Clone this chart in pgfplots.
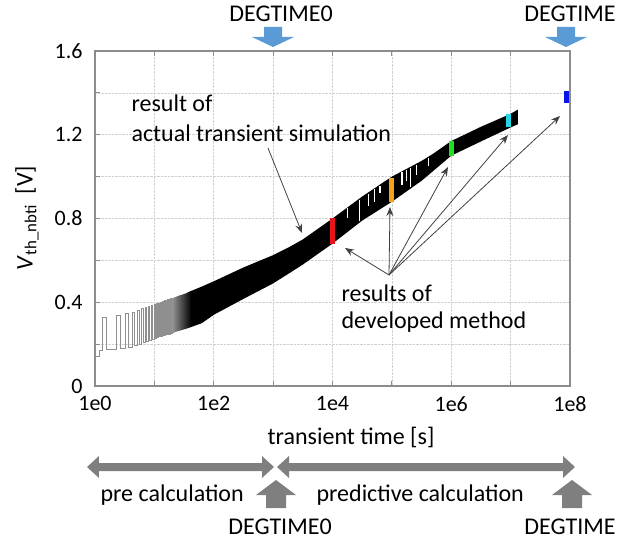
\documentclass[border=0pt]{standalone}
\usepackage{fontspec}
\setmainfont{Carlito}
\usepackage{pgfplots}
\pgfplotsset{compat=1.18}
\usetikzlibrary{arrows.meta}
\definecolor{axgray}{HTML}{8C8C8C}
\definecolor{tracegray}{HTML}{8F8F8F}
\definecolor{degblue}{HTML}{5B9BD5}
\definecolor{blockgray}{HTML}{7F7F7F}
\definecolor{mred}{HTML}{E8141B}
\definecolor{morange}{HTML}{F7A01C}
\definecolor{mgreen}{HTML}{1EE01E}
\definecolor{mcyan}{HTML}{1ED8E8}
\definecolor{mblue}{HTML}{0A14E6}
\newcommand\lf{\fontsize{24}{28}\selectfont}
\newcommand\tf{\fontsize{22}{26}\selectfont}

\begin{document}
\begin{tikzpicture}
\useasboundingbox (-95pt,-155pt) rectangle (534pt,386pt);
\begin{axis}[
  at={(0pt,0pt)}, anchor=south west,
  scale only axis, width=475pt, height=335pt,
  xmode=log, xmin=1, xmax=1e8, ymin=0, ymax=1.6,
  xtick={1,10,100,1000,10000,100000,1000000,10000000,100000000},
  xticklabels={1e0,,1e2,,1e4,,1e6,,1e8},
  xminorticks=false,
  ytick={0,0.2,0.4,0.6,0.8,1.0,1.2,1.4,1.6},
  yticklabels={0,,0.4,,0.8,,1.2,,1.6},
  xtick pos=both, ytick pos=left,
  tick align=inside, major tick length=5pt,
  grid=major, grid style={densely dotted, black!18, line width=0.6pt},
  axis line style={axgray, line width=1.4pt},
  tick style={axgray, line width=1pt},
  ticklabel style={font=\tf},
  yticklabel style={xshift=-9pt},
  xticklabel style={yshift=-7pt},
  unbounded coords=jump,
]
% pulse train of the transient simulation (early, sparse part)
\addplot[tracegray, line width=0.7pt] coordinates {
(1,0.14)(1.18,0.14)(1.18,0.168)
(1.35,0.168)(1.35,0.327)(1.55,0.327)(1.55,0.174)
(2.30,0.174)(2.30,0.338)(2.65,0.338)(2.65,0.178)
(3.25,0.178)(3.25,0.346)(3.60,0.346)(3.60,0.183)
(4.20,0.183)(4.20,0.352)(4.55,0.352)(4.55,0.193)
(5.15,0.193)(5.15,0.361)(5.50,0.361)(5.50,0.201)
(6.10,0.201)(6.10,0.369)(6.45,0.369)(6.45,0.208)
(7.05,0.208)(7.05,0.375)(7.40,0.375)(7.40,0.214)
(8.00,0.214)(8.00,0.380)(8.35,0.380)(8.35,0.220)
(8.95,0.220)(8.95,0.385)(9.30,0.385)(9.30,0.225)
(9.90,0.225)(9.90,0.390)(10.25,0.390)(10.25,0.228)
(10.85,0.228)(10.85,0.394)(11.20,0.394)(11.20,0.232)
(11.80,0.232)(11.80,0.397)(12.15,0.397)(12.15,0.235)
(12.75,0.235)(12.75,0.401)(13.10,0.401)(13.10,0.238)
(13.70,0.238)(13.70,0.404)(14.05,0.404)(14.05,0.240)
(14.65,0.240)(14.65,0.407)(15.00,0.407)(15.00,0.243)
(15.60,0.243)(15.60,0.409)(15.95,0.409)(15.95,0.245)
(16.55,0.245)(16.55,0.412)(16.90,0.412)(16.90,0.247)
(17.50,0.247)(17.50,0.414)(17.85,0.414)(17.85,0.249)
(18.45,0.249)(18.45,0.417)(18.80,0.417)(18.80,0.251)
(19.40,0.251)(19.40,0.419)(19.75,0.419)(19.75,0.253)
(20.35,0.253)(20.35,0.421)(20.70,0.421)(20.70,0.255)
};
% transition where the pulses merge (grey to black)
\addplot[draw=none, left color=black!42, right color=black] coordinates {
(20,0.419)(25,0.430)(33,0.441)(42,0.455)
(42,0.282)(33,0.272)(25,0.262)(20,0.253)
};
% dense part: envelope of the oscillation
\addplot[fill=black, draw=none] coordinates {
(41,0.453)(63,0.475)(100,0.50)(316,0.566)(1000,0.625)(1905,0.665)(3162,0.70)
(10000,0.80)(31623,0.905)(100000,1.00)(200000,1.045)(316228,1.075)(500000,1.11)
(1000000,1.17)(3162278,1.238)(10000000,1.30)(13200000,1.32)
(13200000,1.25)(10000000,1.235)(3162278,1.168)(1000000,1.10)(316228,0.98)(100000,0.88)
(31623,0.79)(10000,0.68)(3162,0.58)(1905,0.54)(1000,0.49)(316,0.416)(100,0.34)
(63,0.30)(41,0.281)
};
% sparse spots in the simulated band
\addplot[white, line width=1.1pt] coordinates {
(18197,0.85)(18197,0.80)(28840,nan)
(28840,0.89)(28840,0.79)(39811,nan)
(39811,0.918)(39811,0.86)(51286,nan)
(51286,0.94)(51286,0.88)(63096,nan)
(63096,0.955)(63096,0.92)(147911,nan)
(147911,1.02)(147911,0.96)(173780,nan)
(173780,1.03)(173780,0.98)(208930,nan)
(208930,1.04)(208930,0.95)(263027,nan)
(263027,1.055)(263027,1.01)(416869,nan)
(416869,1.09)(416869,1.05)
};
% results of developed method
\addplot[mred, line width=5pt] coordinates {(10000,0.68)(10000,0.80)};
\addplot[morange, line width=5pt] coordinates {(100000,0.88)(100000,0.995)};
\addplot[mgreen, line width=5pt] coordinates {(1000000,1.10)(1000000,1.17)};
\addplot[mcyan, line width=5pt] coordinates {(9300000,1.235)(9300000,1.30)};
\addplot[mblue, line width=5pt] coordinates {(89000000,1.35)(89000000,1.41)};
\end{axis}

\begin{scope}[x=1pt, y=-1pt, shift={(-95pt,386pt)}]
% top markers
\node at (281,14) {\lf DEGTIME0};
\node at (570,14) {\lf DEGTIME};
\fill[degblue] (264,27) -- (282,27) -- (282,37) -- (294,37) -- (273,47) -- (252,37) -- (264,37) -- cycle;
\fill[degblue] (557,27) -- (575,27) -- (575,37) -- (587,37) -- (566,47) -- (545,37) -- (557,37) -- cycle;
% y label
\node[rotate=90] at (27,218) {\lf\textit{V}\textsubscript{th\_nbti}\ \ [V]};
% x label
\node at (351,437) {\lf transient time [s]};
% annotations
\node[anchor=west] at (128,103) {\lf result of};
\node[anchor=west] at (128,133) {\lf actual transient simulation};
\node[anchor=west] at (338,293) {\lf results of};
\node[anchor=west] at (338,322) {\lf developed method};
\begin{scope}[black!75, line width=0.8pt, -{Stealth[length=9pt,width=7pt]}]
\draw (268,148) -- (302,233);
\draw (389,275) -- (345,248);
\draw (389,275) -- (390,207);
\draw (389,275) -- (448,167);
\draw (389,275) -- (508,135);
\draw (389,275) -- (560,116);
\end{scope}
% bottom range arrows
\fill[blockgray] (87,467) -- (99,456) -- (99,463) -- (262,463) -- (262,456) -- (274,467) -- (262,478) -- (262,471) -- (99,471) -- (99,478) -- cycle;
\fill[blockgray] (277,467) -- (289,456) -- (289,463) -- (563,463) -- (563,456) -- (575,467) -- (563,478) -- (563,471) -- (289,471) -- (289,478) -- cycle;
\fill[blockgray] (276,480) -- (296,495) -- (286,495) -- (286,508) -- (266,508) -- (266,495) -- (256,495) -- cycle;
\fill[blockgray] (572,480) -- (592,495) -- (582,495) -- (582,508) -- (562,508) -- (562,495) -- (552,495) -- cycle;
\node[anchor=west] at (97,495) {\lf pre calculation};
\node[anchor=west] at (313,495) {\lf predictive calculation};
\node at (280,527) {\lf DEGTIME0};
\node at (570,527) {\lf DEGTIME};
\end{scope}
\end{tikzpicture}
\end{document}
